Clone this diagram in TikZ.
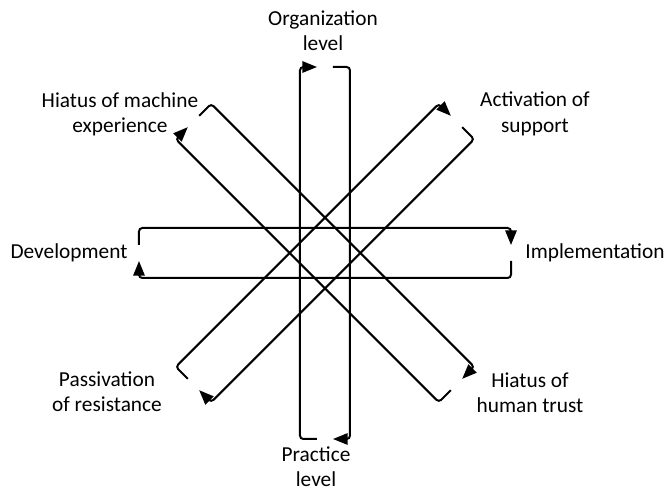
\documentclass[tikz,border=0pt]{standalone}
\usepackage{fontspec}
\setmainfont{Carlito}
\usetikzlibrary{arrows.meta}

\tikzset{
  loopline/.style={line width=1.5pt, rounded corners=2.5pt},
  looptip/.style={-{Triangle[length=11pt,width=8.5pt]}},
  label/.style={align=center, inner sep=0pt, font=\fontsize{16}{19}\selectfont}
}

\begin{document}
\begin{tikzpicture}[x=0.75pt,y=0.75pt]

  \useasboundingbox (-325,-239) rectangle (343,253);

  % the four loops, all the same shape, turned about the centre
  \foreach \a in {0,45,90,-45}{
    \begin{scope}[rotate=\a]
      \draw[loopline,looptip] (-186,8) -- (-186,25) -- (186,25) -- (186,8);
      \draw[loopline,looptip] (186,-8) -- (186,-25) -- (-186,-25) -- (-186,-8);
    \end{scope}
  }

  % labels at the loop ends
  \node[label] (org)   at (-2,222)    {Organization\\level};
  \node[label] (prac)  at (-9,-214)   {Practice\\level};
  \node[label] (dev)   at (-256,0)    {Development};
  \node[label] (impl)  at (270,0)     {Implementation};
  \node[label] (mach)  at (-205,139)  {Hiatus of machine\\experience};
  \node[label] (act)   at (210,139)   {Activation of\\support};
  \node[label] (pass)  at (-218,-139) {Passivation\\of resistance};
  \node[label] (human) at (205,-140)  {Hiatus of\\human trust};

\end{tikzpicture}
\end{document}
